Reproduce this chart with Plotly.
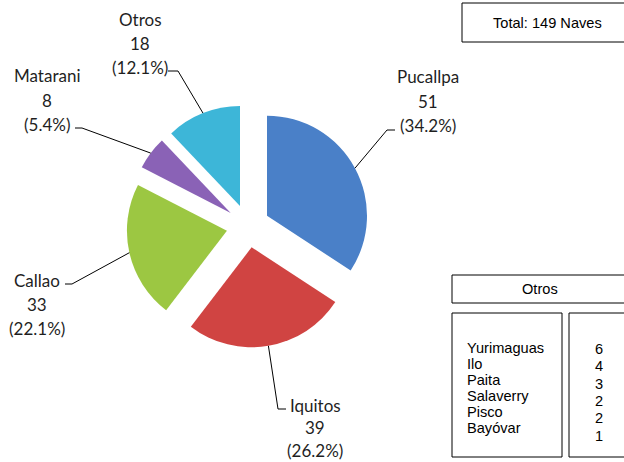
import math
import plotly.graph_objects as go

# ---- data ----
ports = ["Pucallpa", "Iquitos", "Callao", "Matarani", "Otros"]
ships = [51, 39, 33, 8, 18]
otros_ports = ["Yurimaguas", "Ilo", "Paita", "Salaverry", "Pisco", "Bayóvar"]
otros_ships = [6, 4, 3, 2, 2, 1]
total = sum(ships)

# ---- styling / layout config ----
W, H = 624, 462
colors = ["#4A80C8", "#D04442", "#9CC742", "#8A62B6", "#3DB6D8"]
PULL = 0.216
CX, CY, R = 248, 226, 100           # pie centre and radius in pixels
LABEL_FONT = dict(family="Lato, 'Open Sans', sans-serif", size=17, color="#1f1f1f")
BOX_FONT = dict(family="'Liberation Sans', Arial, sans-serif", size=14.6, color="#000000")

# label text centre (x, y of first line), line gap, and leader elbow/end points per slice
label_cfg = {
    "Pucallpa": dict(tx=428, ty=77, gap=24.5, elbow=(387, 130), end=(395, 130)),
    "Iquitos": dict(tx=315, ty=405, gap=22.5, elbow=(278, 409), end=(286, 409)),
    "Callao": dict(tx=37, ty=280, gap=24, elbow=(72, 284), end=(65, 284)),
    "Matarani": dict(tx=47, ty=76, gap=24, elbow=(82, 128), end=(75, 128)),
    "Otros": dict(tx=140, ty=20, gap=23.5, elbow=(178, 71), end=(168, 71)),
}


def px(x):
    return x / W


def py(y):
    return 1 - y / H


half = R * (1 + PULL)
fig = go.Figure(
    go.Pie(
        labels=ports,
        values=ships,
        sort=False,
        direction="clockwise",
        rotation=0,
        pull=[PULL] * len(ships),
        marker=dict(colors=colors, line=dict(width=0)),
        textinfo="none",
        hoverinfo="label+value+percent",
        domain=dict(x=[px(CX - half), px(CX + half)], y=[py(CY + half), py(CY - half)]),
        showlegend=False,
    )
)

annotations = []
shapes = []

# slice labels and leader lines computed from data
cum = 0
for name, v in zip(ports, ships):
    frac_mid = (cum + v / 2) / total
    cum += v
    ang = 2 * math.pi * frac_mid
    dx, dy = math.sin(ang), -math.cos(ang)
    ax = CX + dx * R * PULL + dx * R
    ay = CY + dy * R * PULL + dy * R
    cfg = label_cfg[name]
    pct = f"({100 * v / total:.1f}%)"
    for i, t in enumerate([name, str(v), pct]):
        annotations.append(dict(
            x=px(cfg["tx"]), y=py(cfg["ty"] + i * cfg["gap"]), xref="paper", yref="paper",
            text=t, showarrow=False, xanchor="center", yanchor="middle", font=LABEL_FONT,
        ))
    ex, ey = cfg["elbow"]
    nx, ny = cfg["end"]
    path = f"M {px(ax)} {py(ay)} L {px(ex)} {py(ey)} L {px(nx)} {py(ny)}"
    shapes.append(dict(type="path", xref="paper", yref="paper", path=path,
                       line=dict(color="#000000", width=1)))

# boxes
def rect(x0, y0, x1, y1):
    shapes.append(dict(type="rect", xref="paper", yref="paper",
                       x0=px(x0), x1=px(x1), y0=py(y1), y1=py(y0),
                       line=dict(color="#000000", width=1), fillcolor="rgba(0,0,0,0)"))

rect(462, 3, 632, 42)
annotations.append(dict(x=px(547), y=py(23), xref="paper", yref="paper",
                        text=f"Total: {total} Naves", showarrow=False,
                        xanchor="center", yanchor="middle", font=BOX_FONT))

rect(452, 275, 632, 303)
annotations.append(dict(x=px(540), y=py(289), xref="paper", yref="paper",
                        text="Otros", showarrow=False,
                        xanchor="center", yanchor="middle", font=BOX_FONT))

rect(452, 313, 562, 457)
rect(569, 313, 632, 457)
for i, (n, v) in enumerate(zip(otros_ports, otros_ships)):
    annotations.append(dict(x=px(465), y=py(348 + i * 16), xref="paper", yref="paper",
                            text=n, showarrow=False, xanchor="left", yanchor="middle",
                            font=BOX_FONT))
    annotations.append(dict(x=px(599), y=py(349 + i * 17.3), xref="paper", yref="paper",
                            text=str(v), showarrow=False, xanchor="center", yanchor="middle",
                            font=BOX_FONT))

fig.update_layout(
    width=W, height=H,
    margin=dict(l=0, r=0, t=0, b=0),
    paper_bgcolor="white", plot_bgcolor="white",
    annotations=annotations, shapes=shapes,
)

fig.write_html(
    "out.html",
    config={"displayModeBar": False},
    post_script="document.body.style.margin='0px';document.body.style.overflow='hidden';",
)
